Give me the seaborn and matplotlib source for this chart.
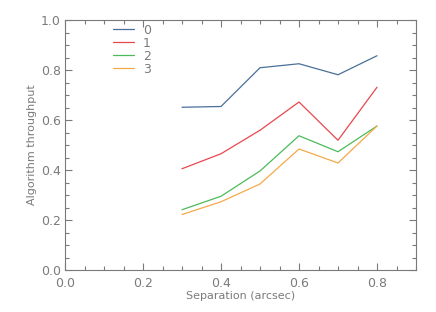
import numpy as np
import pandas as pd
import matplotlib
matplotlib.use("Agg")
import matplotlib.pyplot as plt
import seaborn as sns
from matplotlib.ticker import MultipleLocator

# data
separation = [0.3, 0.4, 0.5, 0.6, 0.7, 0.8]
serie_0 = [0.651, 0.654, 0.809, 0.825, 0.781, 0.857]
serie_1 = [0.405, 0.465, 0.559, 0.672, 0.519, 0.731]
serie_2 = [0.241, 0.295, 0.396, 0.537, 0.473, 0.576]
serie_3 = [0.222, 0.273, 0.344, 0.484, 0.428, 0.576]
labels = ["0", "1", "2", "3"]
cores = ["#4a6f9a", "#e8474d", "#4cba5a", "#f5a94a"]

dados = pd.DataFrame({
    "sep": separation * 4,
    "val": serie_0 + serie_1 + serie_2 + serie_3,
    "serie": [l for l in labels for _ in separation],
})

sns.set_style("ticks")
plt.rcParams["font.family"] = ["DejaVu Sans"]
cinza = "#7a7a7a"

fig = plt.figure(figsize=(4.36, 3.12), dpi=100)
ax = fig.add_axes([65 / 436, 42 / 312, 351 / 436, 250 / 312])

sns.lineplot(data=dados, x="sep", y="val", hue="serie", palette=cores,
             linewidth=0.9, ax=ax, legend=True)

ax.set_xlim(0, 0.9)
ax.set_ylim(0, 1.0)
ax.xaxis.set_major_locator(MultipleLocator(0.2))
ax.xaxis.set_minor_locator(MultipleLocator(0.05))
ax.yaxis.set_major_locator(MultipleLocator(0.2))
ax.yaxis.set_minor_locator(MultipleLocator(0.05))
ax.xaxis.set_major_formatter(matplotlib.ticker.FormatStrFormatter("%.1f"))
ax.yaxis.set_major_formatter(matplotlib.ticker.FormatStrFormatter("%.1f"))
ax.tick_params(which="both", direction="in", top=True, right=True,
               colors=cinza, labelsize=9, labelcolor=cinza)
ax.tick_params(which="major", length=5, width=0.8)
ax.tick_params(which="minor", length=3, width=0.8)
ax.tick_params(axis="x", pad=5)
ax.tick_params(axis="y", pad=3)
for s in ax.spines.values():
    s.set_color(cinza)
    s.set_linewidth(0.8)

ax.set_xlabel("Separation (arcsec)", color=cinza, fontsize=8, labelpad=1)
ax.set_ylabel("Algorithm throughput", color=cinza, fontsize=8, labelpad=3)

leg = ax.legend(frameon=False, loc="upper left", bbox_to_anchor=(0.105, 1.03),
                fontsize=9, handlelength=1.7, labelspacing=0.0, handletextpad=0.7)
for t in leg.get_texts():
    t.set_color(cinza)

fig.savefig("out.png", dpi=100)
